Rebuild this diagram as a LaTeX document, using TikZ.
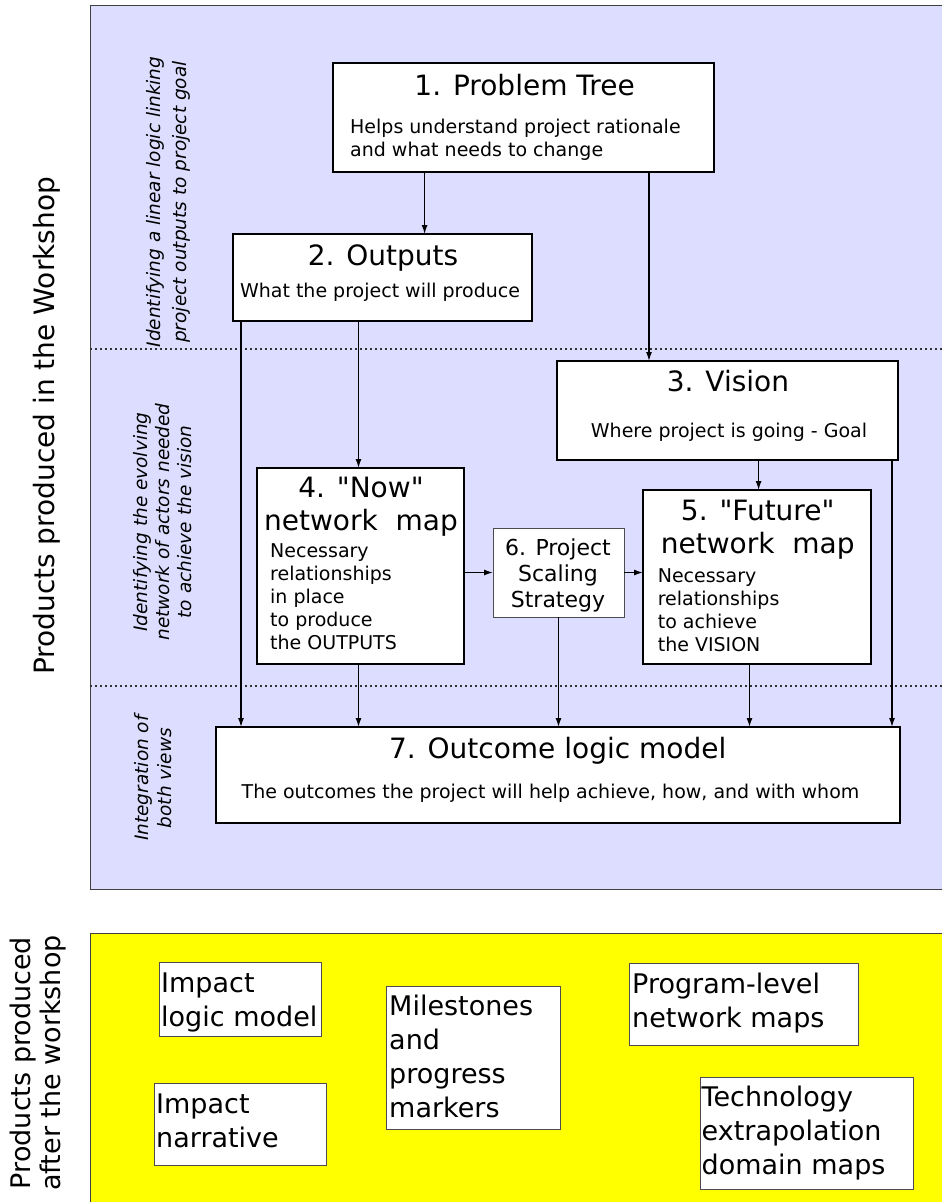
\documentclass[tikz,border=0pt]{standalone}
\usepackage{fontspec}
\setmainfont{DejaVu Sans}
\usetikzlibrary{arrows.meta,calc}
\definecolor{lav}{RGB}{221,221,255}
\definecolor{yel}{RGB}{255,255,0}
\newcommand{\TL}[1]{\begin{tabular}[t]{@{}l@{}}#1\end{tabular}}
\newcommand{\TC}[1]{\begin{tabular}[t]{@{}c@{}}#1\end{tabular}}
\newcommand{\qq}{\XeTeXglyph\the\XeTeXcharglyph"22\relax}
\begin{document}
\begin{tikzpicture}[x=1pt,y=-1pt,
  panel/.style={draw=black!75, line width=0.9pt},
  box/.style={draw=black, fill=white, line width=1.6pt, anchor=north west, inner sep=0pt, outer sep=0pt},
  thinbox/.style={draw=black!70, fill=white, line width=1pt, anchor=north west, inner sep=0pt, outer sep=0pt},
  title/.style={font=\fontsize{28}{33}\selectfont, inner sep=0pt, anchor=base},
  body/.style={font=\fontsize{19}{23}\selectfont, inner sep=0pt, anchor=base west},
  ylw/.style={font=\fontsize{27}{34}\selectfont, inner sep=0pt, anchor=base west},
  side/.style={rotate=90, align=center, inner sep=0pt},
  note/.style={rotate=90, align=center, inner sep=0pt},
  arr/.style={line width=1.3pt, -{Latex[length=9pt,width=6pt]}},
  sep/.style={line width=1.6pt, dash pattern=on 1.6pt off 3.4pt, black!80}
]
\useasboundingbox (0,0) rectangle (942,1202);

% panels
\fill[lav] (90,5) rectangle (950,889);
\draw[panel] (950,5) -- (90,5) -- (90,889) -- (950,889);
\fill[yel] (90,933) rectangle (950,1210);
\draw[panel] (950,933) -- (90,933) -- (90,1210);

% separators
\draw[sep] (90,349) -- (942,349);
\draw[sep] (90,686) -- (942,686);

% side labels
\node[side, font=\fontsize{28}{34}\selectfont] (s1) at (47,426) {Products produced in the Workshop};
\node[side, font=\fontsize{27}{29.5}\selectfont] (s2) at (38,1063) {Products produced\\after the workshop};

\node[note, font=\fontsize{18.5}{26}\selectfont\itshape] (n1) at (168,202) {Identifying a linear logic linking\\project outputs to project goal};
\node[note, font=\fontsize{18.5}{22}\selectfont\itshape] (n2) at (163,522) {Identifying the evolving\\network of actors needed\\to achieve the vision};
\node[note, font=\fontsize{18.5}{23}\selectfont\itshape] (n3) at (153,778) {Integration of\\both views};

% boxes
\node[box, minimum width=381pt, minimum height=109pt] (b1) at (333,63) {};
\node[box, minimum width=299pt, minimum height=87pt] (b2) at (233,234) {};
\node[box, minimum width=341pt, minimum height=99pt] (b3) at (557,361) {};
\node[box, minimum width=207pt, minimum height=196pt] (b4) at (257,468) {};
\node[thinbox, minimum width=131pt, minimum height=89pt] (b6) at (493,528) {};
\node[box, minimum width=228pt, minimum height=174pt] (b5) at (643,490) {};
\node[box, minimum width=684pt, minimum height=96pt] (b7) at (216,727) {};

% box texts
\node[title] (t1) at (524.6,95) {1. Problem Tree};
\node[body] (d1) at (350,133) {\TL{Helps understand project rationale\\and what needs to change}};
\node[title] (t2) at (383,265) {2. Outputs};
\node[body, anchor=base] (d2) at (380,297) {What the project will produce};
\node[title] (t3) at (728,391) {3. Vision};
\node[body, anchor=base] (d3) at (729,437) {Where project is going - Goal};
\node[title] (t4) at (361,497) {\TC{4. \qq Now\qq\\network~~map}};
\node[body] (d4) at (270,557) {\TL{Necessary\\relationships\\in place\\to produce\\the OUTPUTS}};
\node[font=\fontsize{22}{26}\selectfont, anchor=base, inner sep=0pt] (t6) at (558,555) {\TC{6. Project\\Scaling\\Strategy}};
\node[title] (t5) at (757.7,520) {\TC{5. \qq Future\qq\\network~~map}};
\node[body] (d5) at (657.6,582) {\TL{Necessary\\relationships\\to achieve\\the VISION}};
\node[title] (t7) at (557.7,758) {7. Outcome logic model};
\node[body, anchor=base] (d7) at (550.5,798) {The outcomes the project will help achieve, how, and with whom};

% connectors
\draw[arr] ([xshift=91.6pt]b1.south west) -- ([xshift=91.6pt]b1.south west |- b2.north);
\draw[arr] ([xshift=316pt]b1.south west) -- ([xshift=316pt]b1.south west |- b3.north);
\draw[arr] ([xshift=8pt]b2.south west) -- ([xshift=8pt]b2.south west |- b7.north);
\draw[arr] ([xshift=125.5pt]b2.south west) -- ([xshift=125.5pt]b2.south west |- b4.north);
\draw[arr] ([xshift=101.5pt]b4.south west) -- ([xshift=101.5pt]b4.south west |- b7.north);
\draw[arr] (b6.south) -- (b6.south |- b7.north);
\draw[arr] ([xshift=106.5pt]b5.south west) -- ([xshift=106.5pt]b5.south west |- b7.north);
\draw[arr] ([xshift=201.6pt]b3.south west) -- ([xshift=201.6pt]b3.south west |- b5.north);
\draw[arr] ([xshift=335pt]b3.south west) -- ([xshift=335pt]b3.south west |- b7.north);
\draw[arr] (b6.west -| b4.east) -- (b6.west);
\draw[arr] (b6.east) -- (b6.east -| b5.west);

% after-workshop products
\node[thinbox, minimum width=162pt, minimum height=74pt] (y1) at (159,962) {};
\node[ylw] (u1) at (161,992) {\TL{Impact\\logic model}};
\node[thinbox, minimum width=172pt, minimum height=82pt] (y2) at (154,1083) {};
\node[ylw] (u2) at (156,1113) {\TL{Impact\\narrative}};
\node[thinbox, minimum width=174pt, minimum height=143pt] (y3) at (386,986) {};
\node[ylw] (u3) at (389,1015) {\TL{Milestones\\and\\progress\\markers}};
\node[thinbox, minimum width=229pt, minimum height=82pt] (y4) at (629,963) {};
\node[ylw] (u4) at (632,993) {\TL{Program-level\\network maps}};
\node[thinbox, minimum width=213pt, minimum height=112pt] (y5) at (700,1077) {};
\node[ylw] (u5) at (701.5,1106) {\TL{Technology\\extrapolation\\domain maps}};
\end{tikzpicture}
\end{document}
